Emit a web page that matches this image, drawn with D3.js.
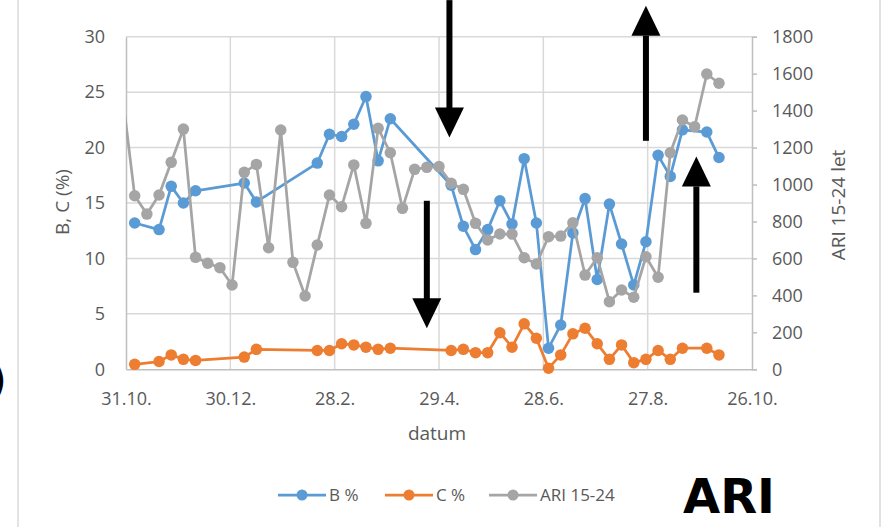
<!DOCTYPE html>
<html>
<head>
<meta charset="utf-8">
<script src="https://cdn.jsdelivr.net/npm/d3@7"></script>
<style>
  body { margin: 0; background: #fff; }
  svg { display: block; }
  text { font-family: "Open Sans", "Noto Sans", sans-serif; }
</style>
</head>
<body>
<svg id="chart" width="882" height="527"></svg>
<script>
// Weekly ARI counts (age 15-24) and B / C percentages by sampling date
const ariDates = [
  "2018-10-29","2018-11-05","2018-11-12","2018-11-19","2018-11-26","2018-12-03","2018-12-10",
  "2018-12-17","2018-12-24","2018-12-31","2019-01-07","2019-01-14","2019-01-21","2019-01-28",
  "2019-02-04","2019-02-11","2019-02-18","2019-02-25","2019-03-04","2019-03-11","2019-03-18",
  "2019-03-25","2019-04-01","2019-04-08","2019-04-15","2019-04-22","2019-04-29","2019-05-06",
  "2019-05-13","2019-05-20","2019-05-27","2019-06-03","2019-06-10","2019-06-17","2019-06-24",
  "2019-07-01","2019-07-08","2019-07-15","2019-07-22","2019-07-29","2019-08-05","2019-08-12",
  "2019-08-19","2019-08-26","2019-09-02","2019-09-09","2019-09-16","2019-09-23","2019-09-30",
  "2019-10-07"
];
const ariValues = [
  1480, 939, 840, 943, 1120, 1300, 606,
  574, 550, 456, 1066, 1109, 658, 1295,
  579, 397, 673, 943, 880, 1106, 790,
  1304, 1172, 871, 1082, 1093, 1097, 1007,
  974, 790, 700, 732, 732, 604, 570,
  718, 721, 793, 510, 604, 366, 429,
  390, 609, 498, 1172, 1349, 1313, 1598,
  1548
];

const bcDates = [
  "2018-11-05","2018-11-19","2018-11-26","2018-12-03","2018-12-10",
  "2019-01-07","2019-01-14",
  "2019-02-18","2019-02-25","2019-03-04","2019-03-11","2019-03-18","2019-03-25","2019-04-01",
  "2019-05-06","2019-05-13","2019-05-20","2019-05-27","2019-06-03","2019-06-10","2019-06-17",
  "2019-06-24","2019-07-01","2019-07-08","2019-07-15","2019-07-22","2019-07-29","2019-08-05",
  "2019-08-12","2019-08-19","2019-08-26","2019-09-02","2019-09-09","2019-09-16",
  "2019-09-30","2019-10-07"
];
const bValues = [
  13.2, 12.6, 16.5, 15.0, 16.1,
  16.8, 15.1,
  18.6, 21.2, 21.0, 22.1, 24.6, 18.8, 22.6,
  16.6, 12.9, 10.8, 12.6, 15.2, 13.1, 19.0,
  13.2, 1.9, 4.0, 12.3, 15.4, 8.1, 14.9,
  11.3, 7.6, 11.5, 19.3, 17.4, 21.6,
  21.4, 19.1
];
const cValues = [
  0.45, 0.7, 1.3, 0.9, 0.8,
  1.1, 1.8,
  1.7, 1.7, 2.3, 2.2, 2.0, 1.8, 1.9,
  1.7, 1.8, 1.5, 1.5, 3.3, 2.0, 4.1,
  2.8, 0.1, 1.3, 3.2, 3.7, 2.3, 0.9,
  2.2, 0.6, 0.9, 1.7, 0.9, 1.9,
  1.9, 1.3
];

const xTickDates  = ["2018-10-31","2018-12-30","2019-02-28","2019-04-29","2019-06-28","2019-08-27","2019-10-26"];
const xTickLabels = ["31.10.","30.12.","28.2.","29.4.","28.6.","27.8.","26.10."];
const leftTicks   = [0, 5, 10, 15, 20, 25, 30];
const rightTicks  = [0, 200, 400, 600, 800, 1000, 1200, 1400, 1600, 1800];

const seriesNames  = ["B %", "C %", "ARI 15-24"];
const seriesColors = ["#5b9bd5", "#ed7d31", "#a5a5a5"];

// Arrow annotations, placed in date / left-axis units (tail -> tip)
const arrowDates = ["2019-05-05", "2019-04-22", "2019-08-26", "2019-09-24"];
const arrowFrom  = [33.3, 15.2, 20.7, 7.0];
const arrowTo    = [20.9, 3.7, 32.8, 19.2];

const parse = d3.utcParse("%Y-%m-%d");
const svg = d3.select("#chart");

const plotLeft = 126, plotRight = 752, plotTop = 36.7, plotBottom = 369.3;

const x = d3.scaleUtc()
  .domain([parse("2018-10-31"), parse("2019-10-26")])
  .range([plotLeft, plotRight]);
const yL = d3.scaleLinear().domain([0, 30]).range([plotBottom, plotTop]);
const yR = d3.scaleLinear().domain([0, 1800]).range([plotBottom, plotTop]);

const textGrey = "#595959";
const gridGrey = "#d9d9d9";
const axisGrey = "#bfbfbf";

// outer frame lines
svg.append("line").attr("x1", 18).attr("x2", 18).attr("y1", 0).attr("y2", 527)
  .attr("stroke", gridGrey).attr("stroke-width", 1.5);
svg.append("line").attr("x1", 880).attr("x2", 880).attr("y1", 0).attr("y2", 527)
  .attr("stroke", gridGrey).attr("stroke-width", 1.5);
svg.append("text").attr("x", -9).attr("y", 394)
  .style("font-family", "DejaVu Sans").style("font-size", "40px")
  .attr("fill", "#000").text(")");

// gridlines
svg.append("g").selectAll("line").data(leftTicks.filter(d => d > 0)).join("line")
  .attr("x1", plotLeft).attr("x2", plotRight)
  .attr("y1", d => yL(d)).attr("y2", d => yL(d))
  .attr("stroke", gridGrey).attr("stroke-width", 1.5);
svg.append("g").selectAll("line").data(xTickDates.slice(1, -1)).join("line")
  .attr("x1", d => x(parse(d))).attr("x2", d => x(parse(d)))
  .attr("y1", plotTop).attr("y2", plotBottom)
  .attr("stroke", gridGrey).attr("stroke-width", 1.5);

// axes
const xAxis = svg.append("g").attr("transform", `translate(0,${plotBottom})`)
  .call(d3.axisBottom(x).tickValues(xTickDates.map(parse))
    .tickFormat((d, i) => xTickLabels[i]).tickSize(0).tickPadding(23));
const yAxisL = svg.append("g").attr("transform", `translate(${plotLeft},0)`)
  .call(d3.axisLeft(yL).tickValues(leftTicks).tickFormat(d3.format("d"))
    .tickSize(0).tickPadding(21));
const yAxisR = svg.append("g").attr("transform", `translate(${plotRight},0)`)
  .call(d3.axisRight(yR).tickValues(rightTicks).tickFormat(d3.format("d"))
    .tickSize(5).tickPadding(15));

[xAxis, yAxisL, yAxisR].forEach(g => {
  g.select(".domain").attr("stroke", axisGrey).attr("stroke-width", 1.5);
  g.selectAll(".tick line").attr("stroke", axisGrey).attr("stroke-width", 1.5);
  g.selectAll(".tick text").attr("fill", textGrey)
    .style("font-family", '"Open Sans", "Noto Sans", sans-serif').style("font-size", "18px");
});

// axis titles
svg.append("text").attr("x", 437).attr("y", 440).attr("text-anchor", "middle")
  .attr("fill", textGrey).style("font-size", "19px").text("datum");
svg.append("text").attr("transform", "translate(69,202) rotate(-90)").attr("text-anchor", "middle")
  .attr("fill", textGrey).style("font-size", "19px").text("B, C (%)");
svg.append("text").attr("transform", "translate(845,205) rotate(-90)").attr("text-anchor", "middle")
  .attr("fill", textGrey).style("font-size", "19px").text("ARI 15-24 let");

// series: lines are clipped to the plot area, markers only drawn inside the date range
svg.append("clipPath").attr("id", "plotClip")
  .append("rect").attr("x", plotLeft).attr("y", 0).attr("width", plotRight - plotLeft).attr("height", 527);

const plot = svg.append("g");

const series = [
  { dates: bcDates,  values: bValues,   scale: yL, color: seriesColors[0] },
  { dates: bcDates,  values: cValues,   scale: yL, color: seriesColors[1] },
  { dates: ariDates, values: ariValues, scale: yR, color: seriesColors[2] }
];

const [dMin, dMax] = x.domain();
series.forEach(s => {
  const rows = s.dates.map((d, i) => ({ date: parse(d), value: s.values[i] }));
  const g = plot.append("g");
  g.append("path")
    .attr("clip-path", "url(#plotClip)")
    .attr("d", d3.line().x(r => x(r.date)).y(r => s.scale(r.value))(rows))
    .attr("fill", "none").attr("stroke", s.color).attr("stroke-width", 2.75)
    .attr("stroke-linejoin", "round");
  g.selectAll("circle").data(rows.filter(r => r.date >= dMin && r.date <= dMax)).join("circle")
    .attr("cx", r => x(r.date)).attr("cy", r => s.scale(r.value)).attr("r", 5.75)
    .attr("fill", s.color);
});

// arrows
arrowDates.forEach((d, i) => {
  const ax = x(parse(d));
  const y0 = yL(arrowFrom[i]), y1 = yL(arrowTo[i]);
  const dir = Math.sign(y1 - y0);
  const headLen = 30, headHalf = 14.5, shaftHalf = 3;
  const yb = y1 - dir * headLen;
  svg.append("rect").attr("x", ax - shaftHalf).attr("width", shaftHalf * 2)
    .attr("y", Math.min(y0, yb)).attr("height", Math.abs(yb - y0) + 1)
    .attr("fill", "#000");
  svg.append("path")
    .attr("d", `M${ax - headHalf},${yb} L${ax + headHalf},${yb} L${ax},${y1} Z`)
    .attr("fill", "#000");
});

// legend
const legendX = [278, 385, 489];
const legend = svg.append("g");
seriesNames.forEach((name, i) => {
  const lx = legendX[i];
  legend.append("line").attr("x1", lx).attr("x2", lx + 48).attr("y1", 495).attr("y2", 495)
    .attr("stroke", seriesColors[i]).attr("stroke-width", 2.75);
  legend.append("circle").attr("cx", lx + 24).attr("cy", 495).attr("r", 5.5)
    .attr("fill", seriesColors[i]);
  legend.append("text").attr("x", lx + 51).attr("y", 501)
    .attr("fill", textGrey).style("font-size", "17px").text(name);
});

// corner label
svg.append("text").attr("x", 683).attr("y", 513)
  .style("font-family", "DejaVu Sans").style("font-weight", "bold").style("font-size", "48px")
  .attr("fill", "#000").text("ARI");
</script>
</body>
</html>
